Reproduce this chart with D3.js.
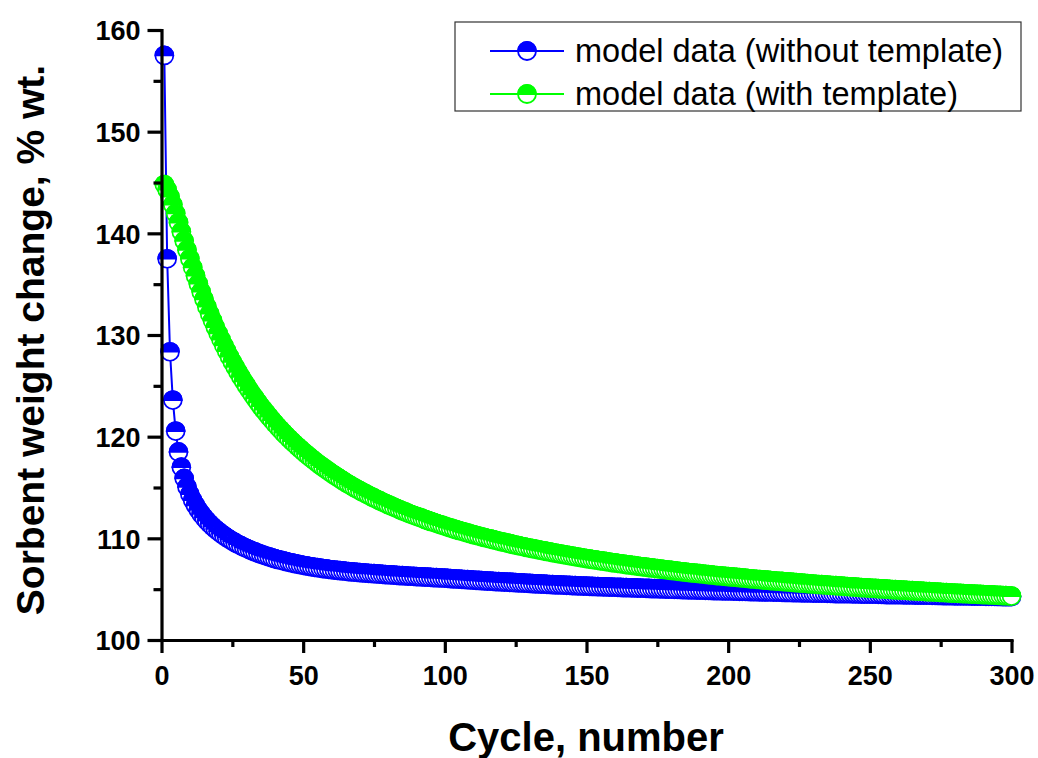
<!DOCTYPE html>
<html>
<head>
<meta charset="utf-8">
<script src="https://cdn.jsdelivr.net/npm/d3@7"></script>
<style>
  html, body { margin: 0; padding: 0; background: #fff; }
  svg { display: block; }
</style>
</head>
<body>
<svg id="chart" width="1038" height="758"></svg>
<script>
// ---- data ----
const seriesNames = ["model data (without template)", "model data (with template)"];
const seriesColors = ["#0000ff", "#00ff00"];

const withoutTemplate = [
157.5,137.5,128.35,123.6,120.55,118.5,117.0,115.9,115.05,114.35,
113.75,113.25,112.8,112.4,112.05,111.73,111.44,111.17,110.92,110.69,
110.47,110.27,110.08,109.9,109.73,109.57,109.42,109.28,109.14,109.01,
108.89,108.77,108.66,108.55,108.45,108.35,108.26,108.17,108.08,108.0,
107.92,107.85,107.78,107.71,107.64,107.58,107.52,107.46,107.4,107.35,
107.3,107.25,107.2,107.15,107.11,107.07,107.03,106.99,106.95,106.91,
106.88,106.85,106.82,106.79,106.76,106.73,106.7,106.68,106.65,106.63,
106.6,106.58,106.56,106.54,106.52,106.5,106.48,106.46,106.44,106.42,
106.4,106.38,106.36,106.34,106.33,106.31,106.29,106.27,106.26,106.24,
106.22,106.21,106.19,106.18,106.16,106.14,106.13,106.11,106.1,106.08,
106.06,106.04,106.02,106.0,105.98,105.97,105.95,105.93,105.91,105.89,
105.87,105.86,105.84,105.82,105.8,105.79,105.77,105.75,105.74,105.72,
105.7,105.69,105.67,105.66,105.64,105.62,105.61,105.59,105.58,105.56,
105.55,105.53,105.52,105.5,105.49,105.48,105.46,105.45,105.43,105.42,
105.41,105.39,105.38,105.37,105.35,105.34,105.33,105.31,105.3,105.29,
105.28,105.27,105.26,105.25,105.24,105.23,105.22,105.21,105.2,105.19,
105.18,105.17,105.16,105.15,105.14,105.13,105.12,105.11,105.1,105.09,
105.08,105.07,105.06,105.05,105.04,105.03,105.02,105.01,105.0,104.99,
104.98,104.98,104.97,104.96,104.95,104.94,104.93,104.92,104.91,104.91,
104.9,104.89,104.88,104.87,104.86,104.86,104.85,104.84,104.83,104.82,
104.82,104.81,104.8,104.79,104.79,104.78,104.77,104.76,104.76,104.75,
104.74,104.74,104.73,104.72,104.72,104.71,104.7,104.7,104.69,104.68,
104.68,104.67,104.66,104.66,104.65,104.64,104.64,104.63,104.63,104.62,
104.61,104.61,104.6,104.6,104.59,104.59,104.58,104.57,104.57,104.56,
104.56,104.55,104.55,104.54,104.53,104.53,104.52,104.52,104.51,104.51,
104.5,104.5,104.49,104.49,104.48,104.47,104.47,104.46,104.46,104.45,
104.45,104.44,104.44,104.43,104.43,104.42,104.42,104.41,104.41,104.4,
104.4,104.39,104.39,104.38,104.38,104.37,104.37,104.36,104.36,104.35,
104.35,104.34,104.34,104.33,104.33,104.32,104.32,104.31,104.31,104.31,
104.3,104.3,104.29,104.29,104.28,104.28,104.27,104.27,104.26,104.26
];

const withTemplate = [
144.8,144.29,143.6,142.81,141.95,141.06,140.16,139.26,138.37,137.5,
136.65,135.83,135.04,134.26,133.51,132.79,132.09,131.42,130.77,130.15,
129.55,128.97,128.42,127.87,127.35,126.85,126.36,125.89,125.44,125.0,
124.58,124.16,123.77,123.38,123.0,122.65,122.3,121.96,121.63,121.3,
120.99,120.69,120.39,120.1,119.82,119.55,119.29,119.03,118.78,118.53,
118.3,118.07,117.84,117.62,117.4,117.19,116.99,116.79,116.59,116.39,
116.21,116.03,115.85,115.67,115.49,115.32,115.16,115.0,114.84,114.69,
114.54,114.4,114.25,114.11,113.97,113.83,113.7,113.57,113.44,113.31,
113.19,113.07,112.95,112.83,112.71,112.6,112.48,112.37,112.26,112.16,
112.06,111.96,111.86,111.76,111.66,111.57,111.47,111.38,111.29,111.2,
111.11,111.02,110.94,110.85,110.77,110.69,110.61,110.53,110.45,110.37,
110.3,110.23,110.15,110.08,110.01,109.94,109.87,109.8,109.73,109.66,
109.6,109.53,109.47,109.4,109.34,109.28,109.22,109.16,109.1,109.04,
108.98,108.93,108.87,108.82,108.76,108.71,108.66,108.6,108.55,108.5,
108.45,108.4,108.35,108.3,108.25,108.2,108.15,108.11,108.06,108.01,
107.97,107.92,107.88,107.83,107.79,107.75,107.71,107.67,107.62,107.58,
107.54,107.5,107.46,107.42,107.38,107.34,107.31,107.27,107.23,107.2,
107.16,107.12,107.09,107.05,107.02,106.98,106.95,106.91,106.88,106.84,
106.81,106.78,106.74,106.71,106.68,106.64,106.61,106.58,106.55,106.52,
106.49,106.46,106.43,106.4,106.37,106.34,106.32,106.29,106.26,106.24,
106.21,106.18,106.16,106.13,106.1,106.08,106.05,106.02,106.0,105.97,
105.95,105.92,105.9,105.88,105.85,105.83,105.8,105.78,105.76,105.73,
105.71,105.69,105.66,105.64,105.62,105.59,105.57,105.55,105.53,105.51,
105.48,105.46,105.44,105.42,105.4,105.38,105.36,105.34,105.32,105.3,
105.28,105.26,105.24,105.22,105.2,105.18,105.16,105.14,105.12,105.11,
105.09,105.07,105.05,105.03,105.02,105.0,104.98,104.96,104.95,104.93,
104.91,104.9,104.88,104.86,104.85,104.83,104.81,104.8,104.78,104.76,
104.75,104.73,104.72,104.7,104.68,104.67,104.65,104.64,104.62,104.61,
104.6,104.58,104.57,104.55,104.54,104.52,104.51,104.49,104.48,104.47,
104.45,104.44,104.43,104.41,104.4,104.38,104.37,104.36,104.34,104.32
];

const cycles = d3.range(1, withoutTemplate.length + 1);
const xTickValues = [0, 50, 100, 150, 200, 250, 300];
const xMinorTicks = [25, 75, 125, 175, 225, 275];
const yTickValues = [100, 110, 120, 130, 140, 150, 160];
const yMinorTicks = [105, 115, 125, 135, 145, 155];

// ---- layout ----
const svg = d3.select("#chart");
const x = d3.scaleLinear().domain([0, 300]).range([161.5, 1011.5]);
const y = d3.scaleLinear().domain([100, 160]).range([640, 30]);
const FONT = "'Liberation Sans', Arial, Helvetica, sans-serif";

// ---- series ----
const series = [
  { name: seriesNames[0], color: seriesColors[0], values: withoutTemplate },
  { name: seriesNames[1], color: seriesColors[1], values: withTemplate }
];
const R = 9;
const halfTop = r => `M${-r},0 A${r},${r} 0 0 1 ${r},0 Z`;

series.forEach(s => {
  const g = svg.append("g");
  const pts = s.values.map((v, i) => [cycles[i], v]);
  g.append("path")
    .attr("d", d3.line().x(d => x(d[0])).y(d => y(d[1]))(pts))
    .attr("fill", "none").attr("stroke", s.color).attr("stroke-width", 2);
  const m = g.selectAll("g.pt").data(pts).join("g")
    .attr("transform", d => `translate(${x(d[0])},${y(d[1])})`);
  m.append("circle").attr("r", R).attr("fill", "#fff")
    .attr("stroke", s.color).attr("stroke-width", 1.7);
  m.append("path").attr("d", halfTop(R)).attr("fill", s.color)
    .attr("stroke", s.color).attr("stroke-width", 1.7);
});

// ---- axes ----
function styleAxis(g) {
  g.select(".domain").attr("stroke", "#000").attr("stroke-width", 3.2).attr("stroke-linecap", "square");
  g.selectAll(".tick line").attr("stroke", "#000").attr("stroke-width", 3.2);
}
const xAxis = svg.append("g").attr("transform", "translate(0,640)")
  .call(d3.axisBottom(x).tickValues(xTickValues).tickSize(13).tickSizeOuter(0).tickFormat(d3.format("d")));
styleAxis(xAxis);
xAxis.selectAll(".tick text").attr("y", 45).attr("dy", 0)
  .attr("font-family", FONT).attr("font-weight", "bold").attr("font-size", 27).attr("fill", "#000");
const xMinor = svg.append("g").attr("transform", "translate(0,640)")
  .call(d3.axisBottom(x).tickValues(xMinorTicks).tickSize(7).tickFormat(""));
xMinor.select(".domain").remove();
xMinor.selectAll(".tick line").attr("stroke", "#000").attr("stroke-width", 3.2);

const yAxis = svg.append("g").attr("transform", "translate(161.5,0)")
  .call(d3.axisLeft(y).tickValues(yTickValues).tickSize(14).tickSizeOuter(0).tickFormat(d3.format("d")));
styleAxis(yAxis);
yAxis.selectAll(".tick text").attr("x", -21).attr("dy", "0.36em")
  .attr("font-family", FONT).attr("font-weight", "bold").attr("font-size", 27).attr("fill", "#000");
const yMinor = svg.append("g").attr("transform", "translate(161.5,0)")
  .call(d3.axisLeft(y).tickValues(yMinorTicks).tickSize(8).tickFormat(""));
yMinor.select(".domain").remove();
yMinor.selectAll(".tick line").attr("stroke", "#000").attr("stroke-width", 3.2);

// ---- axis titles ----
svg.append("text").attr("x", 586).attr("y", 751).attr("text-anchor", "middle")
  .attr("font-family", FONT).attr("font-weight", "bold").attr("font-size", 40)
  .text("Cycle, number");
svg.append("text").attr("transform", "translate(44,340) rotate(-90)").attr("text-anchor", "middle")
  .attr("font-family", FONT).attr("font-weight", "bold").attr("font-size", 39)
  .text("Sorbent weight change, % wt.");

// ---- legend ----
const lg = svg.append("g");
lg.append("rect").attr("x", 455).attr("y", 22).attr("width", 566).attr("height", 89)
  .attr("fill", "#fff").attr("stroke", "#333").attr("stroke-width", 1.2);
series.forEach((s, i) => {
  const ly = 51 + i * 43;
  lg.append("line").attr("x1", 490).attr("x2", 564).attr("y1", ly).attr("y2", ly)
    .attr("stroke", s.color).attr("stroke-width", 2.2);
  const mk = lg.append("g").attr("transform", `translate(527,${ly})`);
  mk.append("circle").attr("r", 9).attr("fill", "#fff").attr("stroke", s.color).attr("stroke-width", 1.8);
  mk.append("path").attr("d", halfTop(9)).attr("fill", s.color).attr("stroke", s.color).attr("stroke-width", 1.8);
  lg.append("text").attr("x", 575).attr("y", ly + 11)
    .attr("font-family", FONT).attr("font-size", 32.5).attr("fill", "#000")
    .text(s.name);
});
</script>
</body>
</html>
